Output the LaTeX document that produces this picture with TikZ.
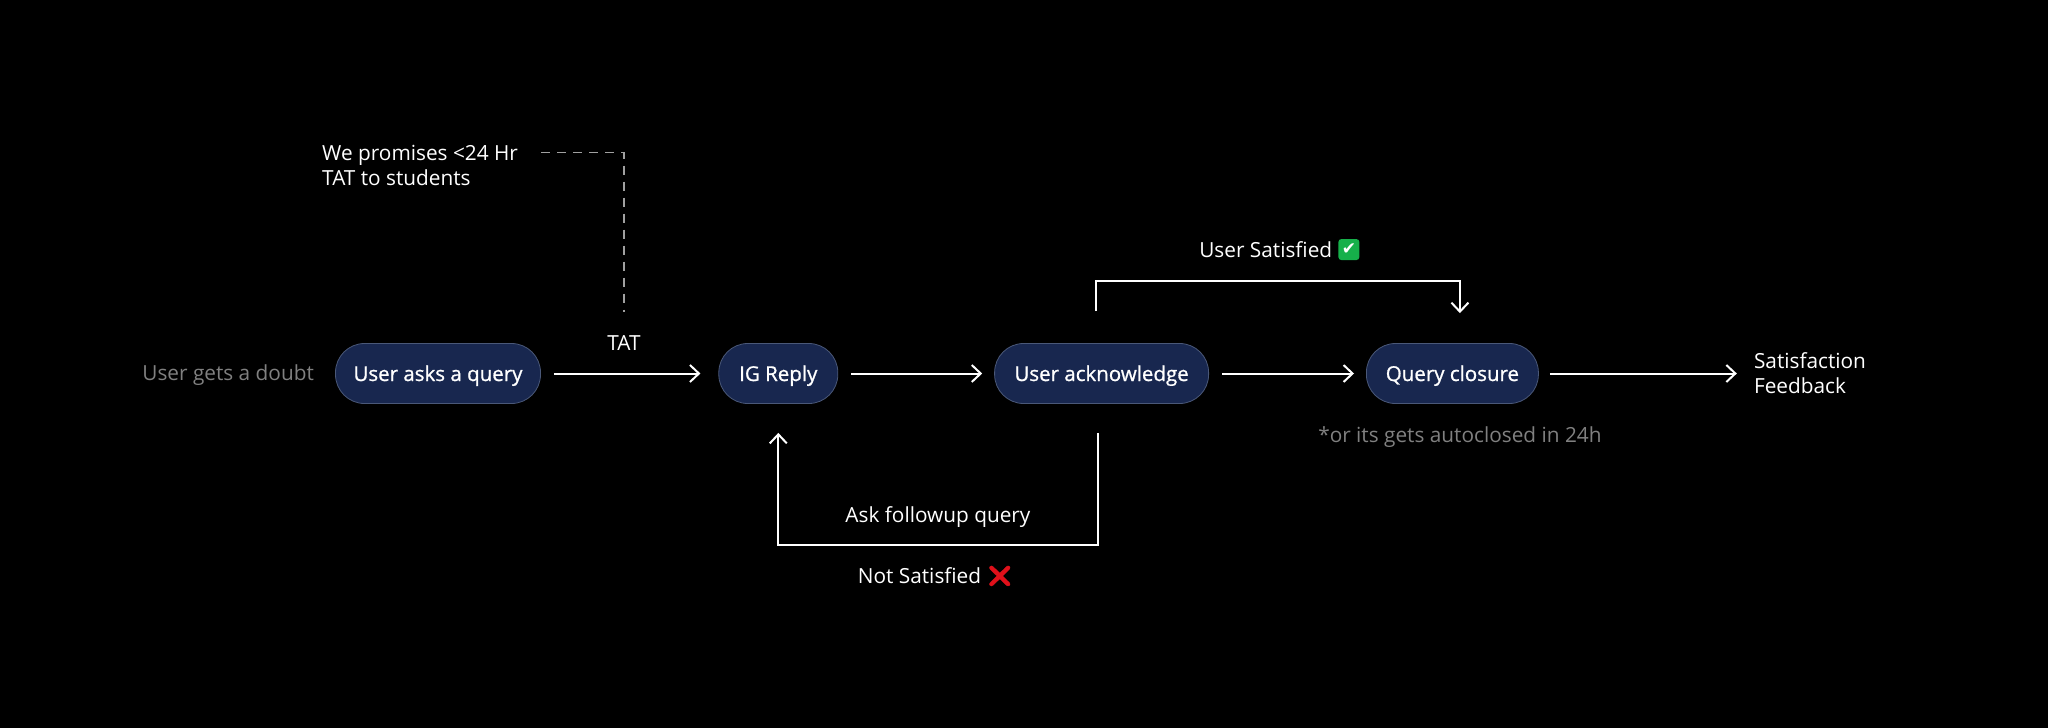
\documentclass[tikz,border=0pt]{standalone}
\usepackage{fontspec}
\setmainfont{Open Sans}
\newfontfamily\boxfont[FakeBold=0.9]{Open Sans}
\newfontfamily\emojifont[FakeBold=1.5]{Noto Emoji}
\newfontfamily\tickfont{DejaVu Sans}
\usepackage{xcolor}
\usepackage{tikz}
\usetikzlibrary{arrows.meta,positioning}
\definecolor{pillblue}{HTML}{18274F}
\definecolor{pillline}{HTML}{4A5878}
\definecolor{mutedgrey}{HTML}{808080}
\definecolor{dashgrey}{HTML}{A0A0A0}
\definecolor{tickgreen}{HTML}{16B04A}
\definecolor{crossred}{HTML}{E0101A}

\begin{document}
\begin{tikzpicture}[
    x=1pt, y=1pt,
    node distance=18pt,
    pill/.style={rectangle, rounded corners=29pt, draw=pillline, line width=0.8pt, fill=pillblue, text=white, minimum height=60pt, inner xsep=0pt, text height=15pt, text depth=0pt, font=\fontsize{20.5}{24}\selectfont\boxfont},
    label/.style={text=white, inner sep=0pt, font=\fontsize{20.8}{25}\selectfont},
    muted/.style={text=mutedgrey, inner sep=0pt, font=\fontsize{20.8}{25}\selectfont},
    tickbox/.style={fill=tickgreen, rounded corners=3pt, text=white, inner sep=0pt, minimum size=21pt, font=\fontsize{17}{17}\selectfont\tickfont},
    arrow/.style={-{Straight Barb[length=9pt,width=17pt,line width=2pt]}, white, line width=2pt},
    dashline/.style={dashgrey, line width=1.6pt, dash pattern=on 9pt off 7pt}
]
    \fill[black] (0,0) rectangle (2048,-728);
    \useasboundingbox (0,0) rectangle (2048,-728);

    % main row
    \node[pill, minimum width=205pt] (query) at (438,-373.5) {User asks a query};
    \node[pill, minimum width=119pt, right=177.5pt of query] (reply) {IG Reply};
    \node[pill, minimum width=214pt, right=156pt of reply] (ack) {User acknowledge};
    \node[pill, minimum width=172pt, right=157pt of ack] (closure) {Query closure};

    \node[muted, left=21pt of query, yshift=-2pt] (doubt) {User gets a doubt};
    \node[label, align=left, right=215pt of closure] (feedback) {Satisfaction\\Feedback};
    \node[muted, below=23pt of closure, xshift=7.5pt] (auto) {*or its gets autoclosed in 24h};

    \node[label] (tat) at ([xshift=83pt]query.north east) {TAT};
    \node[label, align=left, anchor=north west] (promise) at (322,-145) {We promises <24 Hr\\TAT to students};

    % connectors
    \draw[arrow, shorten <=13pt, shorten >=18pt] (query) -- (reply);
    \draw[arrow, shorten <=13pt, shorten >=12pt] (reply) -- (ack);
    \draw[arrow, shorten <=13pt, shorten >=12pt] (ack) -- (closure);
    \draw[arrow, shorten <=11pt, shorten >=17pt] (closure) -- (feedback.west |- closure);

    \draw[arrow, shorten <=32pt, shorten >=30pt] ([xshift=-6pt]ack.north) -- ++(0,62.5)
        -| node[pos=0.25, above=22pt, xshift=-12pt, label] (satisfied) {User Satisfied} ([xshift=7.5pt]closure.north);
    \node[tickbox, right=5pt of satisfied] (tick) {✔};
    \draw[arrow, shorten <=29pt, shorten >=29pt] ([xshift=-4pt]ack.south) -- ++(0,-141)
        -| node[pos=0.25, above=16pt, label] (followup) {Ask followup query}
           node[pos=0.25, below=20pt, xshift=-2.5pt, label] (notsat) {Not Satisfied {\emojifont\textcolor{crossred}{❌}}} (reply.south);

    \draw[dashline, shorten <=23pt, shorten >=23pt] ([yshift=13pt]promise.east) -| (tat.north);
\end{tikzpicture}
\end{document}
